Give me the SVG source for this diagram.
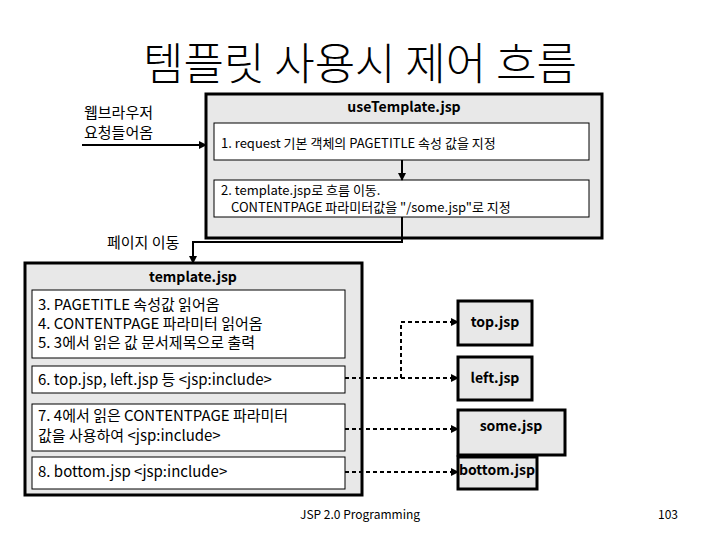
<svg xmlns="http://www.w3.org/2000/svg" width="720" height="540" viewBox="0 0 720 540">
<style>
text{font-family:"Noto Sans CJK KR","Noto Sans",sans-serif;fill:#000}
.outer{fill:#e8e8e8;stroke:#000;stroke-width:3}
.inner{fill:#fff;stroke:#000;stroke-width:1}
.t{font-size:13px}
.b{font-size:14px;font-weight:bold}
.s{font-size:15px}
.ln{fill:none;stroke:#000;stroke-width:2}
.dash{fill:none;stroke:#000;stroke-width:2;stroke-dasharray:4,3}
</style>
<defs><marker id="a" markerWidth="8" markerHeight="8" refX="7" refY="4" orient="auto" markerUnits="userSpaceOnUse"><path d="M0,0L8,4L0,8z" fill="#000"/></marker></defs>
<text x="360" y="80" font-size="44" font-weight="300" text-anchor="middle">템플릿 사용시 제어 흐름</text>
<g id="browser"><text x="84" y="118" class="s">웹브라우저</text><text x="84" y="138" class="s">요청들어옴</text></g>
<g id="useTemplate">
<rect class="outer" x="206" y="94" width="396" height="144"/>
<text x="404" y="112" class="b" text-anchor="middle">useTemplate.jsp</text>
<rect class="inner" x="214" y="123" width="375" height="37"/>
<text x="221" y="148" class="t">1. request 기본 객체의 PAGETITLE 속성 값을 지정</text>
<rect class="inner" x="214" y="180" width="375" height="37"/>
<text x="221" y="195" class="t">2. template.jsp로 흐름 이동.</text>
<text x="231" y="212" class="t">CONTENTPAGE 파라미터값을 "/some.jsp"로 지정</text>
</g>
<g id="template">
<rect class="outer" x="25" y="263" width="337" height="232"/>
<text x="193" y="282" class="b" text-anchor="middle">template.jsp</text>
<rect class="inner" x="32" y="290" width="313" height="68"/>
<text x="38" y="310" class="s">3. PAGETITLE 속성값 읽어옴</text>
<text x="38" y="329" class="s">4. CONTENTPAGE 파라미터 읽어옴</text>
<text x="38" y="348" class="s">5. 3에서 읽은 값 문서제목으로 출력</text>
<rect class="inner" x="32" y="366" width="313" height="27"/>
<text x="38" y="385" class="s">6. top.jsp, left.jsp 등 &lt;jsp:include&gt;</text>
<rect class="inner" x="32" y="404" width="313" height="47"/>
<text x="38" y="421" class="s">7. 4에서 읽은 CONTENTPAGE 파라미터</text>
<text x="38" y="441" class="s">값을 사용하여 &lt;jsp:include&gt;</text>
<rect class="inner" x="32" y="457" width="313" height="32"/>
<text x="38" y="477" class="s">8. bottom.jsp &lt;jsp:include&gt;</text>
</g>
<g id="top"><rect class="outer" x="458" y="301" width="74" height="44"/><text x="495" y="327" class="b" text-anchor="middle">top.jsp</text></g>
<g id="left"><rect class="outer" x="458" y="357" width="74" height="43"/><text x="495" y="383" class="b" text-anchor="middle">left.jsp</text></g>
<g id="some"><rect class="outer" x="458" y="410" width="107" height="45"/><text x="511" y="431" class="b" text-anchor="middle">some.jsp</text></g>
<g id="bottom"><rect class="outer" x="458" y="457" width="79" height="32"/><text x="497" y="475" class="b" text-anchor="middle">bottom.jsp</text></g>
<g id="connectors">
<line class="ln" x1="82" y1="145" x2="206" y2="145" marker-end="url(#a)"/>
<line class="ln" x1="402" y1="160" x2="402" y2="180" marker-end="url(#a)"/>
<path class="ln" d="M402,217V242H193V263" marker-end="url(#a)"/>
<text x="107" y="248" class="s">페이지 이동</text>
<path class="dash" d="M345,378H458" marker-end="url(#a)"/>
<path class="dash" d="M401,378V322H458" marker-end="url(#a)"/>
<path class="dash" d="M345,429H458" marker-end="url(#a)"/>
<path class="dash" d="M345,472H458" marker-end="url(#a)"/>
</g>
<text x="360" y="519" font-size="12" text-anchor="middle">JSP 2.0 Programming</text>
<text x="668" y="519" font-size="12" text-anchor="middle">103</text>
</svg>
